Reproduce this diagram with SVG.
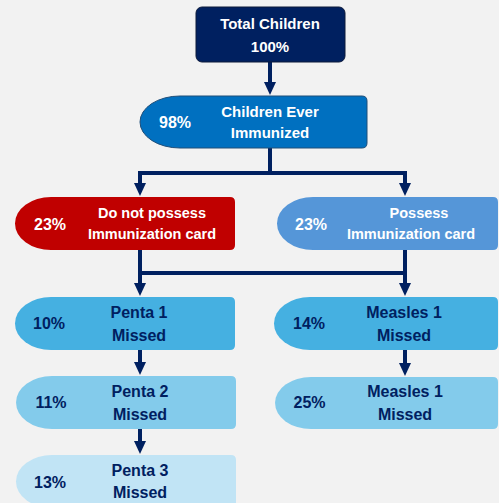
<svg xmlns="http://www.w3.org/2000/svg" width="499" height="503" viewBox="0 0 499 503">
  <style>
    .lbl { font-family: "Liberation Sans", Arial, sans-serif; font-weight: bold; text-anchor: middle; }
    .w { fill: #ffffff; }
    .d { fill: #002060; }
    .conn { stroke: #002060; stroke-width: 4; fill: none; }
  </style>
  <defs>
    <marker id="arrow" markerUnits="userSpaceOnUse" markerWidth="13" markerHeight="12" refX="3" refY="6" orient="auto">
      <path d="M0,0 L13,6 L0,12 z" fill="#002060"/>
    </marker>
  </defs>

  <rect width="499" height="503" fill="#f2f2f2"/>

  <!-- connectors -->
  <g id="connectors" class="conn">
    <path d="M270,62 V85" marker-end="url(#arrow)"/>
    <path d="M270,148 V173 M138,173 H407"/>
    <path d="M140,173 V186" marker-end="url(#arrow)"/>
    <path d="M405,173 V186" marker-end="url(#arrow)"/>
    <path d="M140,250 V273 M405,250 V273 M138,273 H407"/>
    <path d="M140,273 V286" marker-end="url(#arrow)"/>
    <path d="M405,273 V286" marker-end="url(#arrow)"/>
    <path d="M140,350 V365" marker-end="url(#arrow)"/>
    <path d="M405,350 V366" marker-end="url(#arrow)"/>
    <path d="M140,429 V444" marker-end="url(#arrow)"/>
  </g>

  <!-- Total Children -->
  <g id="total">
    <rect x="196" y="7" width="149" height="55" rx="6" fill="#002060" stroke="#0d1a3a" stroke-width="1"/>
    <text class="lbl w" x="270" y="29" font-size="15">Total Children</text>
    <text class="lbl w" x="270" y="52" font-size="15">100%</text>
  </g>

  <!-- Children Ever Immunized -->
  <g id="ever-immunized">
    <path d="M180,96 H362 Q367,96 367,101 V143 Q367,148 362,148 H180 A40,26 0 0 1 180,96 Z" fill="#0070c0" stroke="#1f4e79" stroke-width="1"/>
    <text class="lbl w" x="175" y="128" font-size="16">98%</text>
    <text class="lbl w" x="270" y="117" font-size="15">Children Ever</text>
    <text class="lbl w" x="270" y="138" font-size="15">Immunized</text>
  </g>

  <!-- Do not possess card -->
  <g id="no-card">
    <path d="M51,197 H230 Q235,197 235,202 V245 Q235,250 230,250 H51 A36,26.5 0 0 1 51,197 Z" fill="#c00000"/>
    <text class="lbl w" x="50" y="230" font-size="16">23%</text>
    <text class="lbl w" x="152" y="218" font-size="14.5">Do not possess</text>
    <text class="lbl w" x="152" y="238.5" font-size="14.5">Immunization card</text>
  </g>

  <!-- Possess card -->
  <g id="card">
    <path d="M313,197 H493 Q498,197 498,202 V245 Q498,250 493,250 H313 A36,26.5 0 0 1 313,197 Z" fill="#5596d8"/>
    <text class="lbl w" x="311" y="230" font-size="16">23%</text>
    <text class="lbl w" x="419" y="218" font-size="14.5">Possess</text>
    <text class="lbl w" x="411" y="238.5" font-size="14.5">Immunization card</text>
  </g>

  <!-- Penta 1 Missed -->
  <g id="penta1">
    <path d="M51,297 H230 Q235,297 235,302 V345 Q235,350 230,350 H51 A36,26.5 0 0 1 51,297 Z" fill="#45b0e1"/>
    <text class="lbl d" x="49" y="329" font-size="16">10%</text>
    <text class="lbl d" x="139" y="318" font-size="16">Penta 1</text>
    <text class="lbl d" x="139" y="340.5" font-size="16">Missed</text>
  </g>

  <!-- Measles 1 Missed (14%) -->
  <g id="measles1a">
    <path d="M310,297 H493 Q498,297 498,302 V345 Q498,350 493,350 H310 A36,26.5 0 0 1 310,297 Z" fill="#45b0e1"/>
    <text class="lbl d" x="309" y="329" font-size="16">14%</text>
    <text class="lbl d" x="404" y="318" font-size="16">Measles 1</text>
    <text class="lbl d" x="404" y="340.5" font-size="16">Missed</text>
  </g>

  <!-- Penta 2 Missed -->
  <g id="penta2">
    <path d="M52,376 H231 Q236,376 236,381 V424 Q236,429 231,429 H52 A36,26.5 0 0 1 52,376 Z" fill="#83cbeb"/>
    <text class="lbl d" x="51" y="408" font-size="16">11%</text>
    <text class="lbl d" x="140" y="396.5" font-size="16">Penta 2</text>
    <text class="lbl d" x="140" y="420" font-size="16">Missed</text>
  </g>

  <!-- Measles 1 Missed (25%) -->
  <g id="measles1b">
    <path d="M311,377 H493 Q498,377 498,382 V424 Q498,429 493,429 H311 A36,26 0 0 1 311,377 Z" fill="#83cbeb"/>
    <text class="lbl d" x="309.5" y="408" font-size="16">25%</text>
    <text class="lbl d" x="405" y="396.5" font-size="16">Measles 1</text>
    <text class="lbl d" x="405" y="420" font-size="16">Missed</text>
  </g>

  <!-- Penta 3 Missed -->
  <g id="penta3">
    <path d="M52,455 H231 Q236,455 236,460 V503 Q236,508 231,508 H52 A36,26.5 0 0 1 52,455 Z" fill="#c1e4f5"/>
    <text class="lbl d" x="50" y="488" font-size="16">13%</text>
    <text class="lbl d" x="140" y="475.5" font-size="16">Penta 3</text>
    <text class="lbl d" x="140" y="498" font-size="16">Missed</text>
  </g>
</svg>
